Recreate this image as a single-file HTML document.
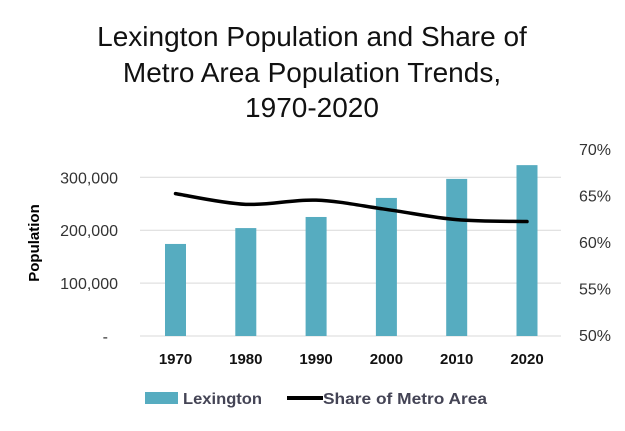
<!DOCTYPE html>
<html><head><meta charset="utf-8"><style>
body{margin:0;background:#fff;}
svg text{font-family:"Liberation Sans",sans-serif;}
</style></head><body>
<svg id="chart" width="625" height="426" xmlns="http://www.w3.org/2000/svg">
<g font-size="28" fill="#111" text-anchor="middle">
<text x="312" y="46">Lexington Population and Share of</text>
<text x="312" y="82">Metro Area Population Trends,</text>
<text x="312" y="117">1970-2020</text>
</g>
<g id="grid"></g><g id="bars"></g><g id="line"></g><g id="axes"></g>
<text transform="translate(39,243) rotate(-90)" text-anchor="middle" font-size="15" font-weight="bold">Population</text>
<g>
<rect x="145" y="392" width="33" height="12" fill="#56acc0"/>
<text x="183" y="404" font-size="16" font-weight="bold" fill="#445" textLength="79" lengthAdjust="spacingAndGlyphs">Lexington</text>
<line x1="287" y1="398" x2="323" y2="398" stroke="#000" stroke-width="4"/>
<text x="323" y="404" font-size="16" font-weight="bold" fill="#445" textLength="164" lengthAdjust="spacingAndGlyphs">Share of Metro Area</text>
</g>
</svg>
<script>
const categories=["1970","1980","1990","2000","2010","2020"];
const population=[174000,204000,225000,261000,297000,323000];
const share=[65.2,64.05,64.5,63.5,62.4,62.2];
const leftTicks=[0,100000,200000,300000];
const leftTickLabels=["-","100,000","200,000","300,000"];
const rightTicks=[50,55,60,65,70];
const rightTickLabels=["50%","55%","60%","65%","70%"];
const NS="http://www.w3.org/2000/svg";
function yL(v){return 336-v/100000*52.9;}
function yR(v){return 335-(v-50)/5*46.5;}
function xC(i){return 175.5+i*70.3;}
function mk(tag,attrs,parent,txt){const e=document.createElementNS(NS,tag);for(const k in attrs)e.setAttribute(k,attrs[k]);if(txt!==undefined)e.textContent=txt;parent.appendChild(e);return e;}
const grid=document.getElementById('grid'),bars=document.getElementById('bars'),line=document.getElementById('line'),axes=document.getElementById('axes');
leftTicks.forEach((t,i)=>{
 const g=mk('line',{x1:140,x2:561,y1:yL(t),y2:yL(t),stroke:'#d9d9d9','stroke-width':1},grid);
 
 
 const l=mk('text',{x:i==0?108:118,y:yL(t)+6,'text-anchor':'end','font-size':'16',fill:'#333'},axes,leftTickLabels[i]);
 
 
});
rightTicks.forEach((t,i)=>{
 const l=mk('text',{x:579,y:yR(t)+6,'font-size':'16',fill:'#333'},axes,rightTickLabels[i]);
 
 
});
categories.forEach((c,i)=>{
 const b=mk('rect',{x:xC(i)-10.5,y:yL(population[i]),width:21,height:336-yL(population[i]),fill:'#56acc0'},bars);
 
 
 const l=mk('text',{x:xC(i),y:364,'text-anchor':'middle','font-size':'15','font-weight':'bold',fill:'#111'},axes,c);
 
 
});
const pts=share.map((v,i)=>[xC(i),yR(v)]);
let d='M'+pts[0][0]+','+pts[0][1];
for(let i=0;i<pts.length-1;i++){
 const p0=pts[Math.max(0,i-1)],p1=pts[i],p2=pts[i+1],p3=pts[Math.min(pts.length-1,i+2)];
 const t=0.17;
 d+=` C${p1[0]+(p2[0]-p0[0])*t},${p1[1]+(p2[1]-p0[1])*t} ${p2[0]-(p3[0]-p1[0])*t},${p2[1]-(p3[1]-p1[1])*t} ${p2[0]},${p2[1]}`;
}
const pl=mk('path',{d:d,fill:'none',stroke:'#000','stroke-width':3.5,'stroke-linecap':'round'},line);


</script>
</body></html>
